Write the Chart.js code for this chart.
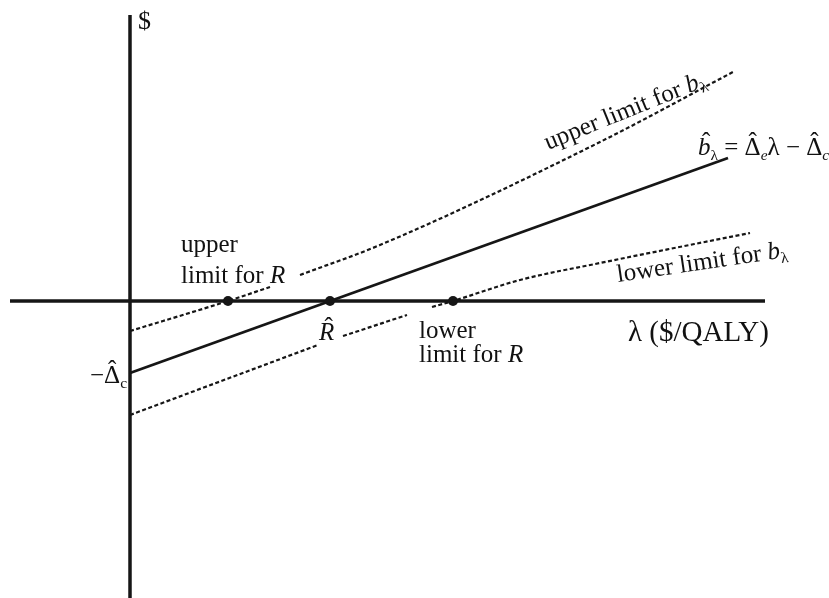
<!DOCTYPE html>
<html>
<head>
<meta charset="utf-8">
<script src="https://cdn.jsdelivr.net/npm/chart.js@4.4.0/dist/chart.umd.min.js"></script>
<style>
  html, body { margin: 0; padding: 0; background: #fff; }
  canvas { display: block; }
</style>
</head>
<body>
<canvas id="myChart" width="829" height="598"></canvas>
<script>
// units: lambda in $1000/QALY, net benefit in $1000
const xAxisLambda = [-12, 63.5];
const yAxisDollars = [28.6, -29.7];

// estimated net benefit line  b = De*lambda - Dc
const lambdaEst = [0, 59.8];
const bEst = [-7.2, 14.3];

// upper limit for b (null = gap where a label sits)
const lambdaUpper = [0, 9.8, 14, 15.5, 17, 25, 47, 60.3];
const bUpper = [-3.0, 0, 1.4, null, 2.6, 5.6, 15.9, 22.9];

// lower limit for b
const lambdaLower = [0, 18.8, 20, 21.3, 27.7, 29, 30.2, 32.3, 39, 47, 62];
const bLower = [-11.4, -4.4, null, -3.5, -1.4, null, -0.6, 0, 2.1, 3.8, 6.8];

// upper limit for R, R hat, lower limit for R
const lambdaCross = [9.8, 20, 32.3];
const bCross = [0, 0, 0];

const FONT = '"Liberation Serif", "DejaVu Serif", serif';
const INK = '#161616';

function pts(xs, ys) {
    return xs.map((x, i) => ({ x: x, y: ys[i] }));
}

// draws a row of text pieces (italic, subscript, hat) one after the other
function drawRuns(ctx, x0, y0, parts, size) {
    var cx = x0;
    parts.forEach(function (p) {
        var s = p.sub ? size * 0.62 : size;
        ctx.font = (p.it ? 'italic ' : '') + s + 'px ' + FONT;
        var w = ctx.measureText(p.t).width;
        ctx.textAlign = 'left';
        ctx.fillText(p.t, cx, y0 + (p.sub ? size * 0.2 : 0));
        if (p.hat) {
            ctx.font = size + 'px ' + FONT;
            ctx.textAlign = 'center';
            ctx.fillText('\u02C6', cx + w / 2 + (p.it ? size * 0.08 : 0), y0 - size * 0.2);
            ctx.textAlign = 'left';
        }
        cx += w;
    });
}

const labelPlugin = {
    id: 'labels',
    afterDatasetsDraw(chart) {
        const ctx = chart.ctx;
        const x = chart.scales.x, y = chart.scales.y;
        const px = v => x.getPixelForValue(v);
        const py = v => y.getPixelForValue(v);
        ctx.save();
        ctx.fillStyle = '#111';
        ctx.textBaseline = 'alphabetic';

        drawRuns(ctx, px(0.8), py(27.2), [{ t: '$' }], 26);

        drawRuns(ctx, px(5.1), py(4.9), [{ t: 'upper' }], 25);
        drawRuns(ctx, px(5.1), py(1.8), [{ t: 'limit for ' }, { t: 'R', it: true }], 25);

        drawRuns(ctx, px(18.9), py(-3.9), [{ t: 'R', it: true, hat: true }], 25);

        drawRuns(ctx, px(28.9), py(-3.7), [{ t: 'lower' }], 25);
        drawRuns(ctx, px(28.9), py(-6.1), [{ t: 'limit for ' }, { t: 'R', it: true }], 25);

        drawRuns(ctx, px(49.8), py(-4.0), [{ t: '\u03BB ($/QALY)' }], 29);

        drawRuns(ctx, px(-4), py(-8.2), [{ t: '\u2212' }, { t: '\u0394', hat: true }, { t: 'c', sub: true }], 25);

        drawRuns(ctx, px(56.8), py(14.6), [
            { t: 'b', it: true, hat: true }, { t: '\u03BB', sub: true },
            { t: ' = ' }, { t: '\u0394', hat: true }, { t: 'e', it: true, sub: true },
            { t: '\u03BB' }, { t: ' \u2212 ' }, { t: '\u0394', hat: true }, { t: 'c', it: true, sub: true }
        ], 25);

        ctx.save();
        ctx.translate(px(41.8), py(15.1));
        ctx.rotate(-22 * Math.PI / 180);
        drawRuns(ctx, 0, 0, [{ t: 'upper limit for ' }, { t: 'b', it: true }, { t: '\u03BB', sub: true }], 25);
        ctx.restore();

        ctx.save();
        ctx.translate(px(48.8), py(1.9));
        ctx.rotate(-8.4 * Math.PI / 180);
        drawRuns(ctx, 0, 0, [{ t: 'lower limit for ' }, { t: 'b', it: true }, { t: '\u03BB', sub: true }], 25);
        ctx.restore();

        ctx.restore();
    }
};

const ctx = document.getElementById('myChart');

var c = new Chart(ctx, {
    type: 'scatter',
    data: {
        datasets: [
            {
                // horizontal axis
                data: pts(xAxisLambda, [0, 0]),
                showLine: true, borderColor: INK, borderWidth: 3.5, pointRadius: 0
            },
            {
                // vertical axis
                data: pts([0, 0], yAxisDollars),
                showLine: true, borderColor: INK, borderWidth: 3.5, pointRadius: 0
            },
            {
                data: pts(lambdaEst, bEst),
                showLine: true, borderColor: INK, borderWidth: 2.8, pointRadius: 0
            },
            {
                data: pts(lambdaUpper, bUpper),
                showLine: true, spanGaps: false, borderColor: INK, borderWidth: 2.2,
                borderDash: [4, 2.5], pointRadius: 0, cubicInterpolationMode: 'monotone'
            },
            {
                data: pts(lambdaLower, bLower),
                showLine: true, spanGaps: false, borderColor: INK, borderWidth: 2.2,
                borderDash: [4, 2.5], pointRadius: 0, cubicInterpolationMode: 'monotone'
            },
            {
                data: pts(lambdaCross, bCross),
                pointRadius: 5, pointBackgroundColor: INK, pointBorderColor: INK, pointBorderWidth: 0
            }
        ]
    },
    options: {
        responsive: false,
        animation: false,
        devicePixelRatio: 1,
        layout: { padding: 0, autoPadding: false },
        plugins: { legend: { display: false }, tooltip: { enabled: false } },
        scales: {
            x: { type: 'linear', min: -13, max: 69.9, display: false },
            y: { type: 'linear', min: -29.7, max: 30.1, display: false }
        }
    },
    plugins: [labelPlugin]
});
</script>
</body>
</html>
